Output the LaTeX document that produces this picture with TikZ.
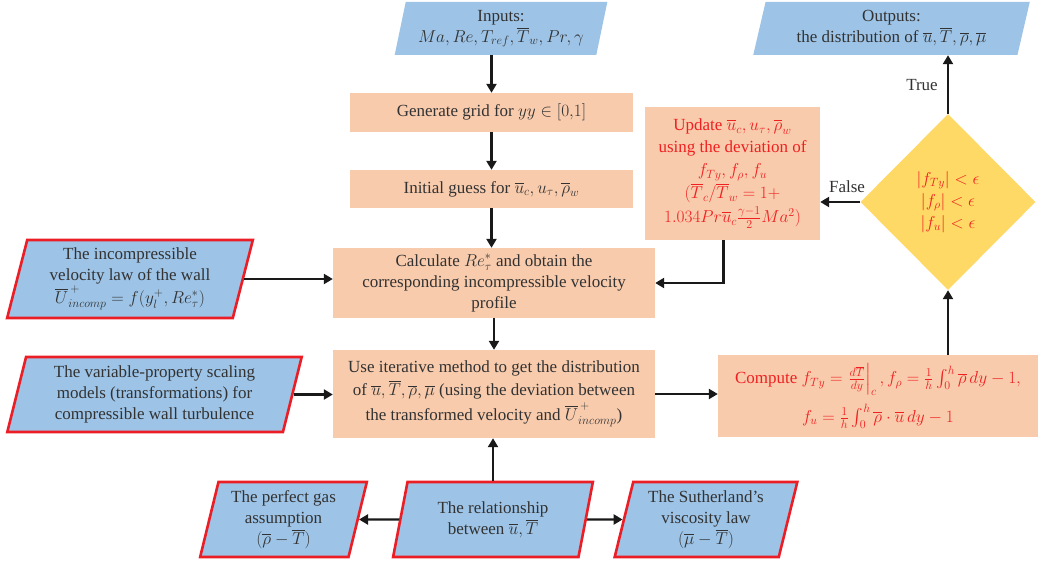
\documentclass[tikz,border=0pt]{standalone}
\usepackage{amsmath}
\usepackage{fontspec}
\setmainfont{Liberation Serif}
\usetikzlibrary{shapes.geometric,arrows.meta}
\definecolor{lblue}{RGB}{157,195,230}
\definecolor{salmon}{RGB}{248,203,173}
\definecolor{dyellow}{RGB}{255,217,102}
\definecolor{bred}{RGB}{235,30,38}
\definecolor{tred}{RGB}{240,32,32}
\definecolor{tgray}{RGB}{50,50,50}
\tikzset{
  base/.style={align=center, text=tgray, font=\fontsize{17}{21}\selectfont, inner sep=1pt},
  proc/.style={base, rectangle, fill=salmon},
  io/.style={base, trapezium, trapezium left angle=76, trapezium right angle=104,
     trapezium stretches=true, fill=lblue},
  ioR/.style={io, draw=bred, line width=2.6pt},
  decision/.style={base, diamond, aspect=1, fill=dyellow, inner sep=0pt},
  arr/.style={line width=2.3pt, draw=black!90, -{Triangle[length=9pt,width=10pt]}},
  lbl/.style={text=tgray, font=\fontsize{17}{21}\selectfont, inner sep=0pt},
}
\begin{document}
\begin{tikzpicture}[x=1pt,y=-1pt]
\useasboundingbox (0,0) rectangle (1039,564);

\node[io, minimum width=213pt, minimum height=53pt] (in) at (501,28.5)
  {Inputs:\\ $Ma, Re, T_{ref}, \overline{T}_w, Pr, \gamma$};
\node[proc, minimum width=283pt, minimum height=39pt] (grid) at (491.5,112.5)
  {Generate grid for $yy \in [0{,}1]$};
\node[proc, minimum width=283pt, minimum height=38pt] (guess) at (491.5,189)
  {Initial guess for $\overline{u}_c, u_\tau, \overline{\rho}_w$};
\node[proc, minimum width=322pt, minimum height=70pt] (calc) at (494,283)
  {Calculate $Re_\tau^*$ and obtain the\\ corresponding incompressible velocity\\ profile};
\node[proc, minimum width=322pt, minimum height=88pt] (iter) at (494,394)
  {Use iterative method to get the distribution\\[2pt] of $\overline{u}, \overline{T}, \overline{\rho}, \overline{\mu}$ (using the deviation between\\[2pt] the transformed velocity and $\overline{U}^{\,+}_{incomp}$)};
\node[ioR, minimum width=246pt, minimum height=78pt] (incomp) at (130,279)
  {The incompressible\\ velocity law of the wall\\ $\overline{U}^{\,+}_{incomp} = f(y_l^+, Re_\tau^*)$};
\node[ioR, minimum width=295pt, minimum height=75pt] (varprop) at (154.5,394.5)
  {The variable-property scaling\\ models (transformations) for\\ compressible wall turbulence};
\node[ioR, minimum width=167pt, minimum height=75pt] (gas) at (283.5,519.5)
  {The perfect gas\\ assumption\\ $(\overline{\rho} - \overline{T})$};
\node[ioR, minimum width=200pt, minimum height=75pt] (rel) at (493,519.5)
  {The relationship\\ between $\overline{u}, \overline{T}$};
\node[ioR, minimum width=183pt, minimum height=75pt] (suth) at (706,519.5)
  {The Sutherland's\\ viscosity law\\ $(\overline{\mu} - \overline{T})$};
\node[proc, text=tred, minimum width=320pt, minimum height=82pt] (comp) at (878,396)
  {Compute $f_{Ty} = \left.\frac{d\overline{T}}{dy}\right|_c, f_\rho = \frac{1}{h}\int_0^h \overline{\rho}\,dy - 1,$\\[8pt]
   $f_u = \frac{1}{h}\int_0^h \overline{\rho}\cdot\overline{u}\,dy - 1$};
\node[decision, text=tred, minimum width=175pt, minimum height=176pt] (dec) at (948,202)
  {$\left|f_{Ty}\right| < \epsilon$\\[1pt] $\left|f_\rho\right| < \epsilon$\\[1pt] $\left|f_u\right| < \epsilon$};
\node[proc, text=tred, minimum width=175pt, minimum height=133pt] (upd) at (732.5,173.5)
  {Update $\overline{u}_c, u_\tau, \overline{\rho}_w$\\[1pt] using the deviation of\\[2pt] $f_{Ty}, f_\rho, f_u$\\[2pt]
   $(\overline{T}_c/\overline{T}_w = 1 +$\\[3pt] $1.034Pr\overline{u}_c\frac{\gamma-1}{2}Ma^2)$};
\node[io, minimum width=277pt, minimum height=53pt] (out) at (891.5,28.5)
  {Outputs:\\ the distribution of $\overline{u}, \overline{T}, \overline{\rho}, \overline{\mu}$};

\coordinate (updout) at ([xshift=-9pt]upd.south);

\draw[arr] (grid.north |- in.south) -- (grid.north);
\draw[arr] (grid) -- (guess);
\draw[arr] (guess.south) -- (guess.south |- calc.north);
\draw[arr] (calc) -- (iter);
\draw[arr] (incomp.east) -- (incomp.east -| calc.west);
\draw[arr] (varprop.east) -- (varprop.east -| iter.west);
\draw[arr] (rel.north) -- (rel.north |- iter.south);
\draw[arr] (rel.west) -- (gas.east);
\draw[arr] (rel.east) -- (suth.west);
\draw[arr] (iter.east) -- (iter.east -| comp.west);
\draw[arr] (dec.south |- comp.north) -- (dec.south);
\draw[arr] (dec.west) -- (dec.west -| upd.east);
\draw[arr] (updout) |- (calc.east);
\draw[arr] (dec.north) -- (dec.north |- out.south);

\node[lbl] (falselbl) at (847,187) {False};
\node[lbl] (truelbl) at (922,85) {True};
\end{tikzpicture}
\end{document}
